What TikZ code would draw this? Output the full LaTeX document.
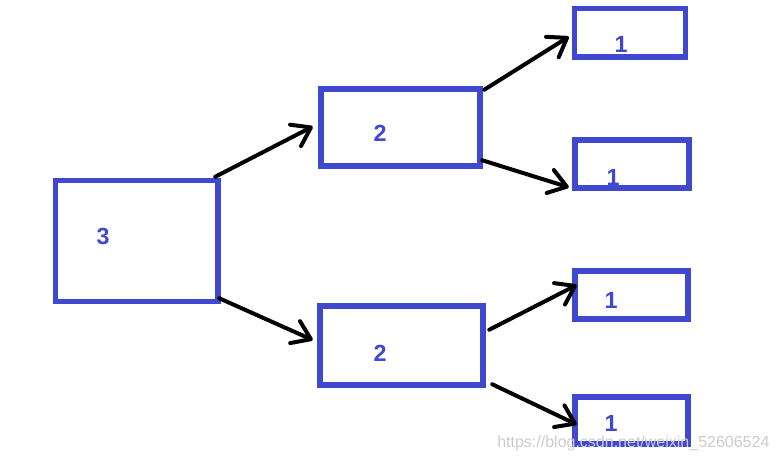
\documentclass[tikz,border=0pt]{standalone}
\usepackage{fontspec}
\setmainfont{Liberation Sans}
\usetikzlibrary{arrows.meta}
\definecolor{boxblue}{RGB}{65,72,208}
\definecolor{wmgray}{RGB}{205,205,205}
\begin{document}
\begin{tikzpicture}[x=0.75pt,y=-0.75pt,
  box/.style={draw=boxblue,line width=3.8pt,inner sep=0pt,minimum width=#1},
  lbl/.style={text=boxblue,font=\fontsize{17.5}{20}\selectfont\bfseries,inner sep=0pt},
  conn/.style={draw=black,line width=3pt,line cap=round,line join=round,
    -{Straight Barb[length=13pt,width=18pt,line cap=round,line join=round]}}]
\useasboundingbox[fill=white] (0,0) rectangle (778,462);
% boxes
\draw[box] (55.5,180.5) rectangle (218,301.5);
\node[inner sep=0pt,minimum width=121.9pt,minimum height=90.75pt] (A) at (136.75,241) {};
\draw[box] (321,89) rectangle (480,166);
\node[inner sep=0pt,minimum width=119.25pt,minimum height=57.75pt] (B1) at (400.5,127.5) {};
\draw[box] (320,306) rectangle (483,385);
\node[inner sep=0pt,minimum width=122.25pt,minimum height=59.25pt] (B2) at (401.5,345.5) {};
\draw[box] (574.5,8.5) rectangle (685.5,57);
\node[inner sep=0pt,minimum width=83.25pt,minimum height=36.4pt] (C1) at (630,32.75) {};
\draw[box] (575,140) rectangle (689,188);
\node[inner sep=0pt,minimum width=85.5pt,minimum height=36pt] (C2) at (632,164) {};
\draw[box] (575,271) rectangle (688,319);
\node[inner sep=0pt,minimum width=84.75pt,minimum height=36pt] (C3) at (631.5,295) {};
\draw[box] (575,397) rectangle (688,444);
\node[inner sep=0pt,minimum width=84.75pt,minimum height=35.25pt] (C4) at (631.5,420.5) {};
% labels
\node[lbl] (tA) at (103,236) {3};
\node[lbl] (tB1) at (380,133) {2};
\node[lbl] (tB2) at (380,353) {2};
\node[lbl] (tC1) at (621,44) {1};
\node[lbl] (tC2) at (613,177) {1};
\node[lbl] (tC3) at (611,300) {1};
\node[lbl] (tC4) at (611,423) {1};
% connectors
\draw[conn] ([shift={(-3,-3.5)}]A.north east) -- ([shift={(-8,-1)}]B1.west);
\draw[conn] ([shift={(1,-3.5)}]A.south east) -- ([shift={(-7,-5.5)}]B2.west);
\draw[conn] ([shift={(4,1)}]B1.north east) -- ([shift={(-5.5,4)}]C1.west);
\draw[conn] ([shift={(2,-6)}]B1.south east) -- ([shift={(-6,-1)}]C2.south west);
\draw[conn] ([shift={(6,24)}]B2.north east) -- ([shift={(2,-10)}]C3.west);
\draw[conn] ([shift={(9,-1)}]B2.south east) -- ([shift={(2,4)}]C4.west);
% watermark
\node[text=wmgray,font=\fontsize{12}{14}\selectfont,inner sep=0pt,anchor=west] (wm) at (497,443) {https://blog.csdn.net/weixin\_52606524};
\end{tikzpicture}
\end{document}
